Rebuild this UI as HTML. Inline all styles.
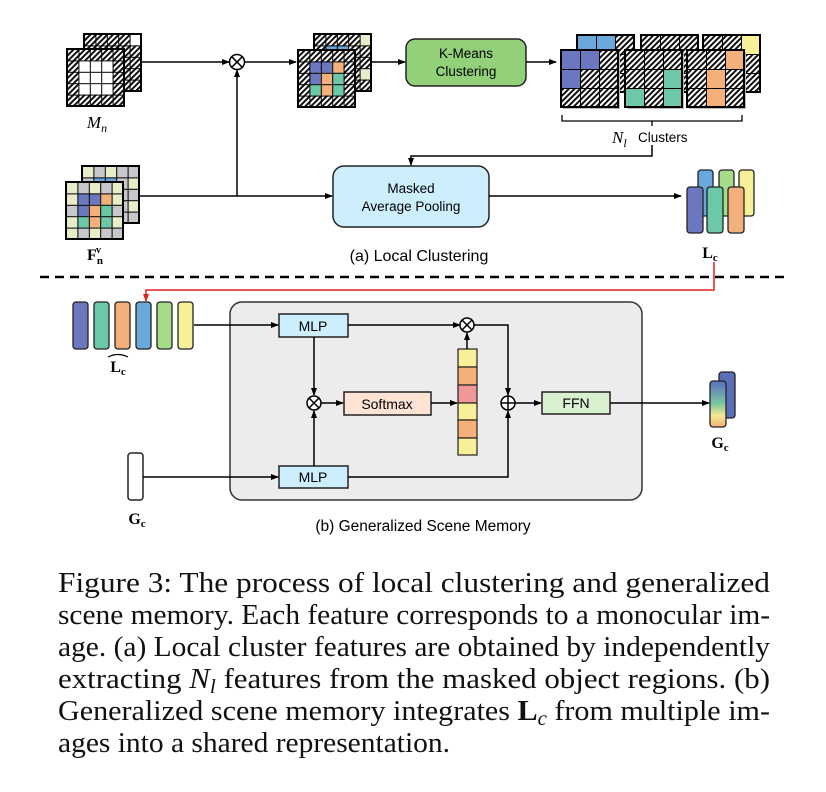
<!DOCTYPE html>
<html><head><meta charset="utf-8"><style>
html,body{margin:0;padding:0;background:#fff;}
svg{display:block;}
text{font-family:"Liberation Sans",sans-serif;}
text.ser, g.ser text{font-family:"Liberation Serif",serif;}
</style></head><body>
<svg width="826" height="792" viewBox="0 0 826 792" xmlns="http://www.w3.org/2000/svg">
<defs>
<pattern id="hatch" width="4" height="4" patternUnits="userSpaceOnUse" patternTransform="rotate(45)">
<rect width="4" height="4" fill="#fff"/><rect width="2" height="4" fill="#111"/></pattern>
<pattern id="g11" width="11.4" height="11.4" patternUnits="userSpaceOnUse"><path d="M0 0H11.4M0 0V11.4" stroke="#000" stroke-width="2" fill="none"/></pattern>
<pattern id="g19" width="19" height="19" patternUnits="userSpaceOnUse"><path d="M0 0H19M0 0V19" stroke="#000" stroke-width="2" fill="none"/></pattern>
<marker id="ar" markerWidth="8" markerHeight="8" refX="7" refY="4" orient="auto" markerUnits="userSpaceOnUse"><path d="M0 1L8 4L0 7z" fill="#000"/></marker>
<marker id="arr" markerWidth="8" markerHeight="8" refX="7" refY="4" orient="auto" markerUnits="userSpaceOnUse"><path d="M0 1L8 4L0 7z" fill="#e02020"/></marker>
<linearGradient id="gc" x1="0" y1="0" x2="0" y2="1"><stop offset="0" stop-color="#5a6fc0"/><stop offset="0.5" stop-color="#7cc8a0"/><stop offset="0.75" stop-color="#f4e890"/><stop offset="1" stop-color="#f4b07a"/></linearGradient>
</defs>

<!-- Mn grids -->
<g transform="translate(84,34)"><rect width="57" height="57" fill="url(#hatch)"/><rect x="45.6" y="0" width="11.4" height="11.4" fill="#fff"/><rect width="57" height="57" fill="url(#g11)" stroke="#000" stroke-width="2"/></g>
<g transform="translate(67,49)"><rect width="57" height="57" fill="url(#hatch)"/><rect x="11.4" y="11.4" width="34.2" height="34.2" fill="#fff"/><rect width="57" height="57" fill="url(#g11)" stroke="#000" stroke-width="2"/></g>
<text x="97" y="128" class="ser" font-size="17" font-style="italic" text-anchor="middle">M<tspan font-size="12" dy="4">n</tspan></text>

<!-- masked grids -->
<g transform="translate(314,34)"><rect width="57" height="57" fill="url(#hatch)"/><rect x="45.6" y="0" width="11.4" height="11.4" fill="#e8ecc8"/><rect x="45.6" y="34.2" width="11.4" height="11.4" fill="#e8ecc8"/><rect x="11.4" y="11.4" width="22.8" height="11.4" fill="#6aa8dc"/><rect width="57" height="57" fill="url(#g11)" stroke="#000" stroke-width="2"/></g>
<g transform="translate(298,50)"><rect width="57" height="57" fill="url(#hatch)"/>
<rect x="11.4" y="11.4" width="11.4" height="11.4" fill="#6b78c0"/><rect x="22.8" y="11.4" width="11.4" height="11.4" fill="#6b78c0"/><rect x="34.2" y="11.4" width="11.4" height="11.4" fill="#f4b07a"/>
<rect x="11.4" y="22.8" width="11.4" height="11.4" fill="#6b78c0"/><rect x="22.8" y="22.8" width="11.4" height="11.4" fill="#f4b07a"/><rect x="34.2" y="22.8" width="11.4" height="11.4" fill="#6dc8a8"/>
<rect x="11.4" y="34.2" width="11.4" height="11.4" fill="#6dc8a8"/><rect x="22.8" y="34.2" width="11.4" height="11.4" fill="#f4b07a"/><rect x="34.2" y="34.2" width="11.4" height="11.4" fill="#6dc8a8"/>
<rect width="57" height="57" fill="url(#g11)" stroke="#000" stroke-width="2"/></g>

<!-- Fnv grids -->
<g transform="translate(82,166)"><rect width="57" height="57" fill="#c8c8cc"/><rect x="0" y="0" width="11.4" height="11.4" fill="#e8ecc8"/><rect x="22.8" y="0" width="11.4" height="11.4" fill="#e8ecc8"/><rect x="45.6" y="11.4" width="11.4" height="11.4" fill="#e8ecc8"/><rect x="45.6" y="34.2" width="11.4" height="11.4" fill="#e8ecc8"/><rect x="11.4" y="11.4" width="22.8" height="11.4" fill="#6aa8dc"/><rect width="57" height="57" fill="url(#g11)" stroke="#000" stroke-width="2"/></g>
<g transform="translate(66,182)"><rect width="57" height="57" fill="#e8ecc8"/>
<rect x="11.4" y="0" width="11.4" height="11.4" fill="#c8c8cc"/><rect x="34.2" y="0" width="11.4" height="11.4" fill="#c8c8cc"/><rect x="0" y="22.8" width="11.4" height="11.4" fill="#c8c8cc"/><rect x="45.6" y="22.8" width="11.4" height="11.4" fill="#c8c8cc"/><rect x="11.4" y="45.6" width="11.4" height="11.4" fill="#c8c8cc"/><rect x="34.2" y="45.6" width="11.4" height="11.4" fill="#c8c8cc"/><rect x="45.6" y="45.6" width="11.4" height="11.4" fill="#c8c8cc"/>
<rect x="11.4" y="11.4" width="11.4" height="11.4" fill="#6b78c0"/><rect x="22.8" y="11.4" width="11.4" height="11.4" fill="#6b78c0"/><rect x="34.2" y="11.4" width="11.4" height="11.4" fill="#f4b07a"/>
<rect x="11.4" y="22.8" width="11.4" height="11.4" fill="#6b78c0"/><rect x="22.8" y="22.8" width="11.4" height="11.4" fill="#f4b07a"/><rect x="34.2" y="22.8" width="11.4" height="11.4" fill="#6dc8a8"/>
<rect x="11.4" y="34.2" width="11.4" height="11.4" fill="#6dc8a8"/><rect x="22.8" y="34.2" width="11.4" height="11.4" fill="#f4b07a"/><rect x="34.2" y="34.2" width="11.4" height="11.4" fill="#6dc8a8"/>
<rect width="57" height="57" fill="url(#g11)" stroke="#000" stroke-width="2"/></g>
<text x="95" y="260" class="ser" font-size="16" font-weight="bold" text-anchor="middle">F<tspan font-size="11" dy="4">n</tspan><tspan font-size="10" dy="-11" dx="-7">v</tspan></text>

<!-- top connectors -->
<line x1="141" y1="62" x2="229" y2="62" stroke="#000" stroke-width="1.5" marker-end="url(#ar)"/>
<circle cx="237" cy="62" r="7.5" fill="#fff" stroke="#000" stroke-width="1.5"/>
<path d="M231.7 56.7L242.3 67.3M242.3 56.7L231.7 67.3" stroke="#000" stroke-width="1.5"/>
<line x1="245" y1="62" x2="296" y2="62" stroke="#000" stroke-width="1.5" marker-end="url(#ar)"/>
<line x1="237" y1="196" x2="237" y2="70" stroke="#000" stroke-width="1.5" marker-end="url(#ar)"/>
<line x1="139" y1="196" x2="332" y2="196" stroke="#000" stroke-width="1.5" marker-end="url(#ar)"/>
<line x1="371" y1="62" x2="405" y2="62" stroke="#000" stroke-width="1.5" marker-end="url(#ar)"/>

<rect x="406" y="39" width="120" height="47" rx="9" fill="#92d07a" stroke="#222" stroke-width="1.5"/>
<text x="466" y="58" font-size="13.5" text-anchor="middle">K-Means</text>
<text x="466" y="76" font-size="13.5" text-anchor="middle">Clustering</text>
<line x1="526" y1="62" x2="556" y2="62" stroke="#000" stroke-width="1.5" marker-end="url(#ar)"/>

<!-- cluster grids backs -->
<g transform="translate(577,35)"><rect width="57" height="57" fill="url(#hatch)"/><rect width="38" height="19" fill="#6aa8dc"/><rect width="57" height="57" fill="url(#g19)" stroke="#000" stroke-width="2"/></g>
<g transform="translate(641,35)"><rect width="57" height="57" fill="url(#hatch)"/><rect width="57" height="57" fill="url(#g19)" stroke="#000" stroke-width="2"/></g>
<g transform="translate(703,35)"><rect width="57" height="57" fill="url(#hatch)"/><rect x="38" width="19" height="19" fill="#f8f098"/><rect width="57" height="57" fill="url(#g19)" stroke="#000" stroke-width="2"/></g>
<!-- cluster fronts -->
<g transform="translate(561,50)"><rect x="2" y="2" width="57" height="57" fill="#bbb"/><rect width="57" height="57" fill="url(#hatch)"/><rect width="38" height="19" fill="#6b78c0"/><rect y="19" width="19" height="19" fill="#6b78c0"/><rect width="57" height="57" fill="url(#g19)" stroke="#000" stroke-width="2"/></g>
<g transform="translate(625,50)"><rect x="2" y="2" width="57" height="57" fill="#bbb"/><rect width="57" height="57" fill="url(#hatch)"/><rect x="38" y="19" width="19" height="19" fill="#6dc8a8"/><rect y="38" width="19" height="19" fill="#6dc8a8"/><rect x="38" y="38" width="19" height="19" fill="#6dc8a8"/><rect width="57" height="57" fill="url(#g19)" stroke="#000" stroke-width="2"/></g>
<g transform="translate(687,50)"><rect x="2" y="2" width="57" height="57" fill="#bbb"/><rect width="57" height="57" fill="url(#hatch)"/><rect x="38" width="19" height="19" fill="#f4b07a"/><rect x="19" y="19" width="19" height="38" fill="#f4b07a"/><rect width="57" height="57" fill="url(#g19)" stroke="#000" stroke-width="2"/></g>

<path d="M562 115V121H742V115M652 121V126" stroke="#000" stroke-width="1.3" fill="none"/>
<text x="612" y="143" class="ser" font-size="17" font-style="italic">N<tspan font-size="12" dy="4">l</tspan></text>
<text x="638" y="142" font-size="13.5">Clusters</text>
<path d="M652 145V156H411V165" stroke="#000" stroke-width="1.5" fill="none" marker-end="url(#ar)"/>

<rect x="333" y="166" width="156" height="61" rx="11" fill="#cdeefc" stroke="#222" stroke-width="1.5"/>
<text x="411" y="193" font-size="13.5" text-anchor="middle">Masked</text>
<text x="411" y="211" font-size="13.5" text-anchor="middle">Average Pooling</text>
<line x1="489" y1="196" x2="681" y2="196" stroke="#000" stroke-width="1.5" marker-end="url(#ar)"/>

<!-- Lc -->
<rect x="698" y="170" width="15" height="46" rx="3" fill="#6aa8dc" stroke="#222" stroke-width="1.3"/>
<rect x="719" y="170" width="15" height="46" rx="3" fill="#a4dc88" stroke="#222" stroke-width="1.3"/>
<rect x="739" y="170" width="15" height="46" rx="3" fill="#f8f098" stroke="#222" stroke-width="1.3"/>
<rect x="687" y="187" width="16" height="46" rx="3" fill="#6b78c0" stroke="#222" stroke-width="1.3"/>
<rect x="707" y="187" width="16" height="46" rx="3" fill="#6dc8a8" stroke="#222" stroke-width="1.3"/>
<rect x="728" y="187" width="16" height="46" rx="3" fill="#f4b07a" stroke="#222" stroke-width="1.3"/>
<text x="710" y="258" class="ser" font-size="16" font-weight="bold" text-anchor="middle">L<tspan font-size="11" dy="3">c</tspan></text>
<text x="419" y="261" font-size="16" text-anchor="middle">(a) Local Clustering</text>

<line x1="40" y1="277" x2="790" y2="277" stroke="#000" stroke-width="2.5" stroke-dasharray="9,6"/>
<path d="M714 262V290H146V301" stroke="#e02020" stroke-width="1.5" fill="none" marker-end="url(#arr)"/>

<!-- bottom -->
<rect x="230" y="302" width="412" height="198" rx="12" fill="#ececec" stroke="#333" stroke-width="1.5"/>
<rect x="73" y="302" width="15" height="47" rx="3" fill="#6b78c0" stroke="#222" stroke-width="1.3"/>
<rect x="94" y="302" width="15" height="47" rx="3" fill="#6dc8a8" stroke="#222" stroke-width="1.3"/>
<rect x="115" y="302" width="15" height="47" rx="3" fill="#f4b07a" stroke="#222" stroke-width="1.3"/>
<rect x="136" y="302" width="15" height="47" rx="3" fill="#6aa8dc" stroke="#222" stroke-width="1.3"/>
<rect x="157" y="302" width="15" height="47" rx="3" fill="#a4dc88" stroke="#222" stroke-width="1.3"/>
<rect x="178" y="302" width="15" height="47" rx="3" fill="#f8f098" stroke="#222" stroke-width="1.3"/>
<text x="118" y="372" class="ser" font-size="16" font-weight="bold" text-anchor="middle">L<tspan font-size="11" dy="3">c</tspan></text>
<path d="M108 357Q118 352 128 357" stroke="#000" stroke-width="1.2" fill="none"/>

<line x1="194" y1="325" x2="278" y2="325" stroke="#000" stroke-width="1.5" marker-end="url(#ar)"/>
<rect x="279" y="314" width="69" height="23" fill="#cdeefc" stroke="#222" stroke-width="1.5"/>
<text x="313" y="331" font-size="14" text-anchor="middle">MLP</text>
<line x1="348" y1="325" x2="460" y2="325" stroke="#000" stroke-width="1.5" marker-end="url(#ar)"/>
<circle cx="467" cy="325" r="7" fill="#fff" stroke="#000" stroke-width="1.5"/>
<path d="M462 320L472 330M472 320L462 330" stroke="#000" stroke-width="1.5"/>
<path d="M474 325H508V395" stroke="#000" stroke-width="1.5" fill="none" marker-end="url(#ar)"/>
<line x1="314" y1="337" x2="314" y2="395" stroke="#000" stroke-width="1.5" marker-end="url(#ar)"/>
<circle cx="314" cy="403" r="7" fill="#fff" stroke="#000" stroke-width="1.5"/>
<path d="M309 398L319 408M319 398L309 408" stroke="#000" stroke-width="1.5"/>
<line x1="321" y1="403" x2="343" y2="403" stroke="#000" stroke-width="1.5" marker-end="url(#ar)"/>
<rect x="344" y="392" width="87" height="23" fill="#fde3d3" stroke="#222" stroke-width="1.5"/>
<text x="387" y="409" font-size="14" text-anchor="middle">Softmax</text>
<line x1="431" y1="403" x2="457" y2="403" stroke="#000" stroke-width="1.5" marker-end="url(#ar)"/>
<rect x="458" y="349" width="19" height="18" fill="#f8f098" stroke="#222" stroke-width="1.2"/>
<rect x="458" y="367" width="19" height="18" fill="#f4b07a" stroke="#222" stroke-width="1.2"/>
<rect x="458" y="385" width="19" height="18" fill="#f09898" stroke="#222" stroke-width="1.2"/>
<rect x="458" y="403" width="19" height="17" fill="#f8f098" stroke="#222" stroke-width="1.2"/>
<rect x="458" y="420" width="19" height="18" fill="#f4b07a" stroke="#222" stroke-width="1.2"/>
<rect x="458" y="438" width="19" height="17" fill="#f8f098" stroke="#222" stroke-width="1.2"/>
<line x1="467" y1="349" x2="467" y2="333" stroke="#000" stroke-width="1.5" marker-end="url(#ar)"/>
<circle cx="508" cy="403" r="7" fill="#fff" stroke="#000" stroke-width="1.5"/>
<path d="M501 403H515M508 396V410" stroke="#000" stroke-width="1.5"/>
<line x1="515" y1="403" x2="541" y2="403" stroke="#000" stroke-width="1.5" marker-end="url(#ar)"/>
<rect x="542" y="392" width="68" height="22" fill="#d8f0d0" stroke="#222" stroke-width="1.5"/>
<text x="576" y="408" font-size="14" text-anchor="middle">FFN</text>
<line x1="610" y1="403" x2="709" y2="403" stroke="#000" stroke-width="1.5" marker-end="url(#ar)"/>
<rect x="719" y="372" width="16" height="46" rx="3" fill="#5a6fb8" stroke="#222" stroke-width="1.3"/>
<rect x="710" y="381" width="16" height="46" rx="3" fill="url(#gc)" stroke="#222" stroke-width="1.3"/>
<text x="720" y="448" class="ser" font-size="16" font-weight="bold" text-anchor="middle">G<tspan font-size="11" dy="3">c</tspan></text>

<rect x="128" y="453" width="15" height="47" rx="3" fill="#fff" stroke="#222" stroke-width="1.5"/>
<text x="137" y="524" class="ser" font-size="16" font-weight="bold" text-anchor="middle">G<tspan font-size="11" dy="3">c</tspan></text>
<line x1="143" y1="477" x2="278" y2="477" stroke="#000" stroke-width="1.5" marker-end="url(#ar)"/>
<rect x="279" y="466" width="69" height="22" fill="#cdeefc" stroke="#222" stroke-width="1.5"/>
<text x="313" y="482" font-size="14" text-anchor="middle">MLP</text>
<line x1="314" y1="466" x2="314" y2="411" stroke="#000" stroke-width="1.5" marker-end="url(#ar)"/>
<path d="M348 477H508V411" stroke="#000" stroke-width="1.5" fill="none" marker-end="url(#ar)"/>
<text x="423" y="531" font-size="15.5" text-anchor="middle">(b) Generalized Scene Memory</text>

<!-- caption -->
<g class="ser" font-size="29" fill="#111">
<text class="ser" x="58" y="592" textLength="712" lengthAdjust="spacingAndGlyphs">Figure 3: The process of local clustering and generalized</text>
<text class="ser" x="58" y="624" textLength="712" lengthAdjust="spacingAndGlyphs">scene memory. Each feature corresponds to a monocular im-</text>
<text class="ser" x="58" y="656" textLength="712" lengthAdjust="spacingAndGlyphs">age. (a) Local cluster features are obtained by independently</text>
<text class="ser" x="58" y="688" textLength="712" lengthAdjust="spacingAndGlyphs">extracting <tspan font-style="italic">N</tspan><tspan font-style="italic" font-size="20" dy="5">l</tspan><tspan dy="-5"> features from the masked object regions. (b)</tspan></text>
<text class="ser" x="58" y="720" textLength="712" lengthAdjust="spacingAndGlyphs">Generalized scene memory integrates <tspan font-weight="bold">L</tspan><tspan font-style="italic" font-size="20" dy="5">c</tspan><tspan dy="-5"> from multiple im-</tspan></text>
<text class="ser" x="58" y="752" textLength="392" lengthAdjust="spacingAndGlyphs">ages into a shared representation.</text>
</g>
</svg>
</body></html>
